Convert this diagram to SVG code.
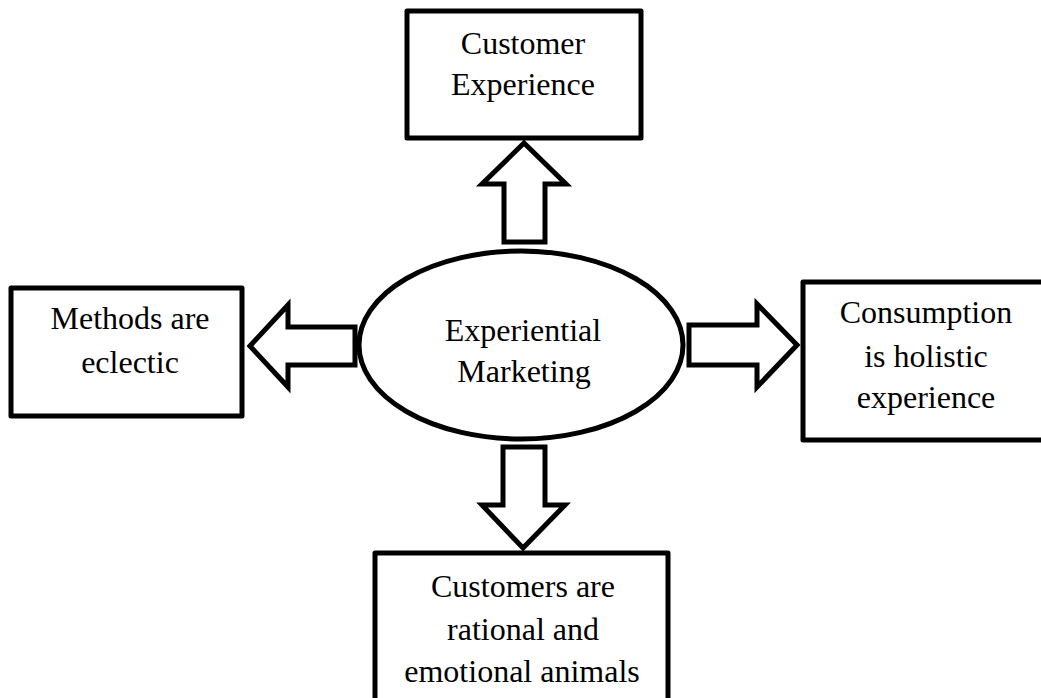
<svg xmlns="http://www.w3.org/2000/svg" width="1041" height="698" viewBox="0 0 1041 698">
<style>
.box{fill:#fff;stroke:#000;stroke-width:5;stroke-linejoin:round}
.arr{fill:#fff;stroke:#000;stroke-width:5;stroke-linejoin:miter}
text{font-family:"Liberation Serif","Times New Roman",serif;font-size:32px;fill:#000;text-anchor:middle}
</style>
<rect width="1041" height="698" fill="#fff"/>
<g id="connectors">
<path class="arr" d="M524,143 L566,184 L545,184 L545,242 L504,242 L504,184 L482,184 Z"/>
<path class="arr" d="M250,346 L288,305 L288,327 L355,327 L355,365 L288,365 L288,387 Z"/>
<path class="arr" d="M797,345 L757,304 L757,325 L689,325 L689,365 L757,365 L757,387 Z"/>
<path class="arr" d="M523,548 L565,505 L545,505 L545,447 L503,447 L503,505 L482,505 Z"/>
</g>
<g id="center">
<ellipse cx="521" cy="345" rx="162" ry="94" fill="#fff" stroke="#000" stroke-width="5"/>
<text x="523" y="341">Experiential</text>
<text x="524" y="382">Marketing</text>
</g>
<g id="top">
<rect class="box" x="407" y="11" width="234" height="127"/>
<text x="523" y="54">Customer</text>
<text x="523" y="95">Experience</text>
</g>
<g id="left">
<rect class="box" x="11" y="288" width="231" height="128"/>
<text x="130" y="329">Methods are</text>
<text x="130" y="373">eclectic</text>
</g>
<g id="right">
<rect class="box" x="803" y="282" width="260" height="158"/>
<text x="926" y="323">Consumption</text>
<text x="926" y="367">is holistic</text>
<text x="926" y="408">experience</text>
</g>
<g id="bottom">
<rect class="box" x="375" y="553" width="293" height="170"/>
<text x="523" y="597">Customers are</text>
<text x="523" y="640">rational and</text>
<text x="522" y="682">emotional animals</text>
</g>
</svg>
